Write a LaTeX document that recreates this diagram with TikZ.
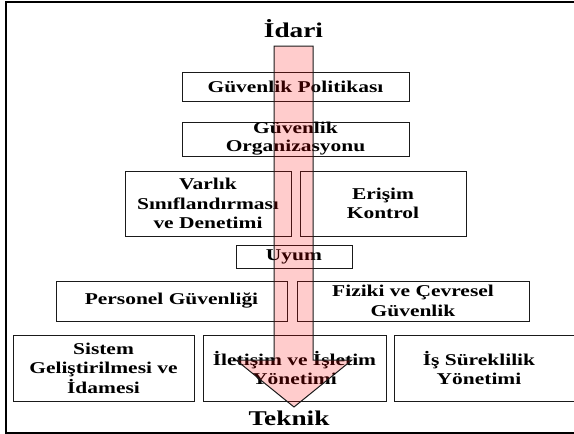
\documentclass[tikz,border=0pt]{standalone}
\usepackage{fontspec}
\usepackage{tikz}
\usetikzlibrary{positioning, calc}
\newfontfamily\boxfont{Liberation Serif Bold}[FakeStretch=1.3]
\definecolor{ink}{HTML}{1A1A1A}
\definecolor{flowfill}{HTML}{FF0000}
\tikzset{
  ctrl/.style  = {rectangle, draw=ink, line width=1pt, inner sep=0pt,
                  align=center, font=\boxfont\fontsize{16.5}{19.5}\selectfont},
  level/.style = {inner sep=0pt, anchor=base, font=\boxfont\fontsize{21}{24}\selectfont},
  flow/.style  = {draw=ink, line width=1pt, fill=flowfill, fill opacity=0.2,
                  draw opacity=1, line join=miter},
}

\begin{document}
\begin{tikzpicture}[x=1pt, y=-1pt]
  \clip (0,0) rectangle (574,434);
  \draw[line width=2.6pt] (5.8,2) rectangle (590,433);

  \node[level] (idari) at (293.5,37.7) {İdari};
  \node[level] (teknik) at (289,425) {Teknik};

  % policy and organisation
  \node[ctrl, minimum width=227pt, minimum height=29pt] (pol) at (295.5,86.5) {Güvenlik Politikası};
  \node[ctrl, minimum width=227pt, minimum height=34pt,
        font=\boxfont\fontsize{16.5}{18}\selectfont] (org) at (295.5,139) {Güvenlik\\Organizasyonu};

  % assets / access
  \node[ctrl, minimum width=166pt, minimum height=65pt] (varlik) at (208,203.5) {Varlık\\Sınıflandırması\\ve Denetimi};
  \node[ctrl, minimum width=166pt, minimum height=65pt] (erisim) at (383,203.5) {Erişim\\Kontrol};

  \node[ctrl, minimum width=116pt, minimum height=23pt] (uyum) at (294,256.5) {Uyum};

  \node[ctrl, minimum width=231pt, minimum height=40pt] (personel) at (171.5,301) {Personel Güvenliği};
  \node[ctrl, minimum width=232pt, minimum height=40pt] (fiziki) at (413,301) {Fiziki ve Çevresel\\Güvenlik};

  % bottom row
  \node[ctrl, minimum width=181pt, minimum height=66pt] (sistem) at (103.5,368) {Sistem\\Geliştirilmesi ve\\İdamesi};
  \node[ctrl, minimum width=183pt, minimum height=66pt] (iletisim) at (294.5,368) {İletişim ve İşletim\\Yönetimi};
  \node[ctrl, minimum width=186pt, minimum height=66pt] (is) at (487,368) {};
  \node[ctrl, draw=none] (istxt) at ($(is)+(-8,0)$) {İş Süreklilik\\Yönetimi};

  % big arrow from idari to teknik
  \draw[flow] (274,46) -- (274,360) -- (236,360) -- (294,407)
              -- (352,360) -- (313,360) -- (313,46) -- cycle;
\end{tikzpicture}
\end{document}
